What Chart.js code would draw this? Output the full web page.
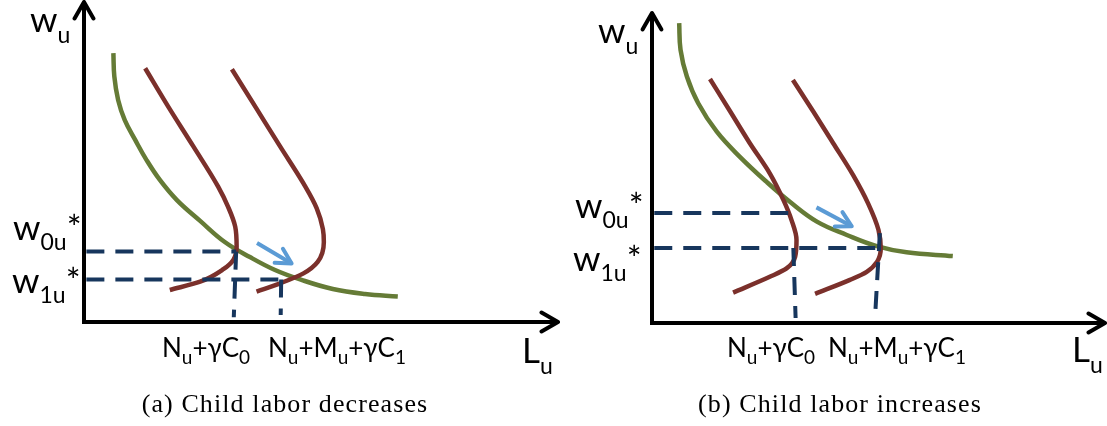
<!DOCTYPE html>
<html>
<head>
<meta charset="utf-8">
<script src="https://cdn.jsdelivr.net/npm/chart.js@4.4.1/dist/chart.umd.min.js"></script>
<style>
  body { margin: 0; background: #fff; }
  #wrap { position: relative; width: 1107px; height: 426px; overflow: hidden; background: #fff; }
  canvas { position: absolute; top: 0; }
  .lab { position: absolute; font-family: Lato, 'Open Sans', 'DejaVu Sans', sans-serif; line-height: 1; white-space: nowrap; color: #000; }
  .lab .s { position: relative; }
  .ax { font-size: 35px; }
  .ax .s { font-size: 23px; top: 11px; }
  .ws { font-size: 35px; }
  .ws .s { font-size: 23px; top: 10px; }
  .tk { font-size: 26px; }
  .tk .s { font-size: 19px; top: 7px; }
  .cap { position: absolute; top: 391px; width: 400px; text-align: center; font-family: 'Liberation Serif', 'DejaVu Serif', serif;
         font-size: 26px; line-height: 1; letter-spacing: 1.1px; color: #000; }
</style>
</head>
<body>
<div id="wrap">
  <canvas id="chartA" width="560" height="426" style="left:0"></canvas>
  <canvas id="chartB" width="547" height="426" style="left:560px"></canvas>

  <div class="lab ax" style="left:30px;top:1px">w<span class="s">u</span></div>
  <div class="lab ax" style="left:522px;top:332px">L<span class="s">u</span></div>
  <div class="lab ws" style="left:13px;top:209px">w<span class="s">0u</span>*</div>
  <div class="lab ws" style="left:12px;top:262px">w<span class="s">1u</span>*</div>
  <div class="lab tk" style="left:162px;top:334px">N<span class="s">u</span>+γC<span class="s">0</span></div>
  <div class="lab tk" style="left:268px;top:334px">N<span class="s">u</span>+M<span class="s">u</span>+γC<span class="s">1</span></div>
  <div class="cap" style="left:85px">(a) Child labor decreases</div>

  <div class="lab ax" style="left:598px;top:12px">w<span class="s">u</span></div>
  <div class="lab ax" style="left:1072px;top:331px">L<span class="s">u</span></div>
  <div class="lab ws" style="left:575px;top:187px">w<span class="s">0u</span>*</div>
  <div class="lab ws" style="left:573px;top:240px">w<span class="s">1u</span>*</div>
  <div class="lab tk" style="left:727px;top:334px">N<span class="s">u</span>+γC<span class="s">0</span></div>
  <div class="lab tk" style="left:828px;top:334px">N<span class="s">u</span>+M<span class="s">u</span>+γC<span class="s">1</span></div>
  <div class="cap" style="left:640px">(b) Child labor increases</div>
</div>

<script>
// (a) child labor decreases -- demand, supply before/after, equilibria
const aDemandL = [6.2, 6.4, 7.2, 8.6, 10.8, 13.2, 16.0, 19.6, 24.5, 29.7, 35.0, 40.3, 45.6, 52.5, 59.3, 66.2];
const aDemandW = [84.0, 76.7, 69.4, 63.1, 56.9, 50.6, 44.4, 38.1, 31.6, 25.0, 20.3, 16.25, 13.3, 10.3, 8.75, 8.0];
const aSupply0L = [12.9, 17.9, 23.1, 28.3, 30.4, 31.9, 32.2, 31.5, 29.4, 24.5, 18.1];
const aSupply0W = [79.3, 67.0, 54.8, 42.3, 36.0, 29.8, 23.5, 19.4, 16.5, 12.6, 10.0];
const aSupply1L = [31.2, 36.3, 41.4, 46.3, 49.1, 50.4, 50.6, 49.3, 46.3, 41.4, 36.4];
const aSupply1W = [79.0, 66.9, 54.8, 43.3, 35.5, 29.0, 25.0, 18.8, 15.2, 12.1, 9.5];
const aWageStar = [22.0, 13.3];
const aLaborStar = [32.1, 41.6];
const aDropTop = [22.0, 13.3];
const aDropBottom = [1.5, 2.2];
const aDropBottomL = [31.6, 41.5];
const aShiftL = [36.5, 43.8];
const aShiftW = [24.7, 18.3];

// (b) child labor increases
const bDemandL = [6.0, 6.3, 7.7, 10.2, 14.3, 19.4, 25.3, 30.5, 36.4, 43.0, 49.6, 56.2, 66.4];
const bDemandW = [96.7, 88.1, 79.5, 70.9, 61.7, 53.6, 45.5, 39.0, 32.7, 28.4, 24.8, 22.8, 21.6];
const bSupply0L = [12.8, 17.2, 21.6, 26.0, 29.0, 30.8, 31.9, 31.6, 29.7, 26.0, 17.9];
const bSupply0W = [78.7, 68.4, 58.0, 48.3, 39.7, 33.2, 26.8, 21.4, 17.6, 14.9, 9.8];
const bSupply1L = [31.1, 35.6, 40.0, 44.4, 47.7, 50.0, 50.5, 49.7, 47.4, 43.7, 36.0];
const bSupply1W = [78.4, 68.2, 58.0, 47.7, 38.6, 30.0, 24.1, 19.8, 16.5, 13.9, 9.4];
const bWageStar = [35.5, 24.2];
const bLaborStar = [31.2, 50.3];
const bDropTop = [24.2, 29.0];
const bDropBottom = [1.6, 3.5];
const bDropBottomL = [31.7, 49.3];
const bShiftL = [36.3, 44.1];
const bShiftW = [37.3, 31.2];

const axisColor = '#000000';
const demandColor = '#657b36';
const supplyColor = '#7b302b';
const dashColor = '#17365d';
const shiftColor = '#5b9bd5';

const pts = (xs, ys) => xs.map((x, i) => ({x: x, y: ys[i]}));

const lineSet = (xs, ys, color, width, extra) => Object.assign({
    data: pts(xs, ys),
    showLine: true,
    borderColor: color,
    borderWidth: width,
    pointRadius: 0,
    fill: false,
    tension: 0,
    clip: false,
    borderCapStyle: 'butt',
    borderJoinStyle: 'round'
}, extra || {});

// open chevron heads at the ends of the axes and the shift arrow
const arrowTips = {
    id: 'arrowTips',
    afterDatasetsDraw(chart) {
        const ctx = chart.ctx;
        chart.data.datasets.forEach((ds, i) => {
            if (!ds.arrowTip) return;
            const els = chart.getDatasetMeta(i).data;
            const ends = [[els[els.length - 2], els[els.length - 1]]];
            if (ds.arrowBoth) ends.push([els[1], els[0]]);
            ctx.save();
            ctx.strokeStyle = ds.borderColor;
            ctx.lineWidth = ds.borderWidth;
            ctx.lineCap = 'round';
            ctx.lineJoin = 'round';
            ends.forEach(([a, b]) => {
                const ang = Math.atan2(b.y - a.y, b.x - a.x);
                const len = ds.arrowTip, spread = ds.arrowSpread || 0.52;
                ctx.beginPath();
                ctx.moveTo(b.x - len * Math.cos(ang - spread), b.y - len * Math.sin(ang - spread));
                ctx.lineTo(b.x, b.y);
                ctx.lineTo(b.x - len * Math.cos(ang + spread), b.y - len * Math.sin(ang + spread));
                ctx.stroke();
            });
            ctx.restore();
        });
    }
};

const panelDatasets = (p) => {
    const sets = [
        lineSet([0, 0, 100], [100, 0, 0], axisColor, 4, {arrowTip: 19, arrowBoth: true, borderJoinStyle: 'miter'})
    ];
    p.wStar.forEach((w, i) => {
        sets.push(lineSet([0.5, p.lStar[i]], [w, w], dashColor, 4, {borderDash: [18, 11]}));
        sets.push(lineSet([p.lStar[i], p.dropBottomL[i]], [p.dropTop[i], p.dropBottom[i]], dashColor, 4, {borderDash: [18, 11]}));
    });
    sets.push(lineSet(p.shiftL, p.shiftW, shiftColor, 4, {arrowTip: 17, arrowSpread: 0.5}));
    // supply curves bend backwards, so interpolate them along the wage axis
    sets.push(lineSet(p.s0L, p.s0W, supplyColor, 4.5, {cubicInterpolationMode: 'monotone', indexAxis: 'y'}));
    sets.push(lineSet(p.s1L, p.s1W, supplyColor, 4.5, {cubicInterpolationMode: 'monotone', indexAxis: 'y'}));
    sets.push(lineSet(p.dL, p.dW, demandColor, 4.5, {tension: 0.4}));
    return sets;
};

const makePanel = (id, p, padding) => new Chart(document.getElementById(id).getContext('2d'), {
    type: 'scatter',
    data: {datasets: panelDatasets(p)},
    options: {
        responsive: false,
        animation: false,
        devicePixelRatio: 1,
        layout: {padding: padding},
        scales: {
            x: {type: 'linear', min: 0, max: 100, display: false},
            y: {type: 'linear', min: 0, max: 100, display: false}
        },
        plugins: {legend: {display: false}, tooltip: {enabled: false}}
    },
    plugins: [arrowTips]
});

makePanel('chartA', {
    dL: aDemandL, dW: aDemandW, s0L: aSupply0L, s0W: aSupply0W, s1L: aSupply1L, s1W: aSupply1W,
    wStar: aWageStar, lStar: aLaborStar, dropTop: aDropTop, dropBottom: aDropBottom, dropBottomL: aDropBottomL,
    shiftL: aShiftL, shiftW: aShiftW
}, {left: 84, right: 2, top: 2, bottom: 104});

makePanel('chartB', {
    dL: bDemandL, dW: bDemandW, s0L: bSupply0L, s0W: bSupply0W, s1L: bSupply1L, s1W: bSupply1W,
    wStar: bWageStar, lStar: bLaborStar, dropTop: bDropTop, dropBottom: bDropBottom, dropBottomL: bDropBottomL,
    shiftL: bShiftL, shiftW: bShiftW
}, {left: 92, right: 2, top: 13, bottom: 103});
</script>
</body>
</html>
